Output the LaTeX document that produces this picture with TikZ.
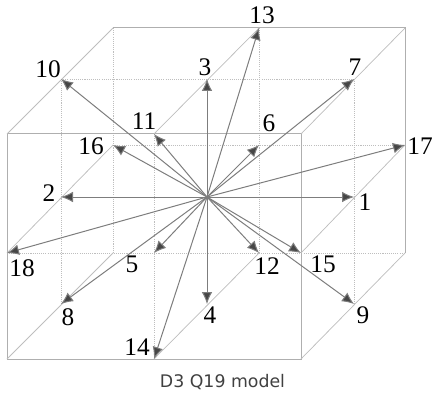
\documentclass[tikz,border=0pt]{standalone}
\usepackage{fontspec}
\setmainfont{Liberation Serif}
\newfontfamily\captionfont{DejaVu Sans}
\usetikzlibrary{arrows.meta}
\definecolor{edgegray}{RGB}{175,175,175}
\definecolor{slantgray}{RGB}{190,190,190}
\definecolor{dotgray}{RGB}{190,190,190}
\definecolor{veloc}{RGB}{125,125,125}
\definecolor{tipgray}{RGB}{70,70,70}
\tikzset{
    wire/.style={draw=edgegray,line width=.75pt},
    slant/.style={draw=slantgray,line width=.55pt},
    hidden/.style={draw=dotgray,line width=.7pt,dash pattern=on .8pt off .8pt},
    veloarrow/.style={
        -{Latex[length=9pt,width=8pt,fill=tipgray]},draw=veloc,line width=.75pt
    },
    num/.style={font=\fontsize{19}{19}\selectfont,text=black,inner sep=0pt}
}

\begin{document}
\begin{tikzpicture}[x=.75pt,y=-.75pt]
\useasboundingbox (0,0) rectangle (434,395);

\coordinate (o) at (207,197);
\coordinate (v1) at (354,197);
\coordinate (v2) at (61,197);
\coordinate (v3) at (207,79);
\coordinate (v4) at (207,304);
\coordinate (v5) at (154,253);
\coordinate (v6) at (259,145);
\coordinate (v7) at (354,79);
\coordinate (v8) at (61,304);
\coordinate (v9) at (354,304);
\coordinate (v10) at (61,79);
\coordinate (v11) at (154,134);
\coordinate (v12) at (259,253);
\coordinate (v13) at (259,28);
\coordinate (v14) at (154,359);
\coordinate (v15) at (301,253);
\coordinate (v16) at (113,145);
\coordinate (v17) at (405,145);
\coordinate (v18) at (7,253);
\coordinate (ftl) at (7,134);
\coordinate (ftr) at (301,134);
\coordinate (fbl) at (7,359);
\coordinate (fbr) at (301,359);
\coordinate (btl) at (113,28);
\coordinate (btr) at (405,28);
\coordinate (bbl) at (113,253);
\coordinate (bbr) at (405,253);

\draw[hidden] (v10) -- (v7);
\draw[hidden] (v16) -- (v17);
\draw[hidden] (v18) -- (bbr);
\draw[hidden] (v10) -- (v8);
\draw[hidden] (btl) -- (bbl);
\draw[hidden] (v11) -- (v14);
\draw[hidden] (v13) -- (v12);
\draw[hidden] (v7) -- (v9);

\draw[wire] (ftl) rectangle (fbr);
\draw[wire] (btl) -- (btr) -- (bbr);
\draw[slant] (ftl) -- (btl);
\draw[slant] (ftr) -- (btr);
\draw[slant] (fbl) -- (bbl);
\draw[slant] (fbr) -- (bbr);
\draw[slant] (v18) -- (v16);
\draw[slant] (v11) -- (v13);
\draw[slant] (v14) -- (v12);
\draw[slant] (v15) -- (v17);

\draw[veloarrow] (o) -- (v1);
\draw[veloarrow] (o) -- (v2);
\draw[veloarrow] (o) -- (v3);
\draw[veloarrow] (o) -- (v4);
\draw[veloarrow] (o) -- (v5);
\draw[veloarrow] (o) -- (v6);
\draw[veloarrow] (o) -- (v7);
\draw[veloarrow] (o) -- (v8);
\draw[veloarrow] (o) -- (v9);
\draw[veloarrow] (o) -- (v10);
\draw[veloarrow] (o) -- (v11);
\draw[veloarrow] (o) -- (v12);
\draw[veloarrow] (o) -- (v13);
\draw[veloarrow] (o) -- (v14);
\draw[veloarrow] (o) -- (v15);
\draw[veloarrow] (o) -- (v16);
\draw[veloarrow] (o) -- (v17);
\draw[veloarrow] (o) -- (v18);

\node[num] (lab1) at (365,202) {1};
\node[num] (lab2) at (49,193) {2};
\node[num] (lab3) at (205,67) {3};
\node[num] (lab4) at (210,315) {4};
\node[num] (lab5) at (132,264) {5};
\node[num] (lab6) at (269,123) {6};
\node[num] (lab7) at (355,67) {7};
\node[num] (lab8) at (68,317) {8};
\node[num] (lab9) at (363,315) {9};
\node[num] (lab10) at (48,69) {10};
\node[num] (lab11) at (144,121) {11};
\node[num] (lab12) at (267,266) {12};
\node[num] (lab13) at (262,15) {13};
\node[num] (lab14) at (137,347) {14};
\node[num] (lab15) at (323,264) {15};
\node[num] (lab16) at (91,146) {16};
\node[num] (lab17) at (420,146) {17};
\node[num] (lab18) at (22,268) {18};

\node[font=\captionfont\fontsize{13}{14}\selectfont,text=black!75,inner sep=0pt]
(caption) at (222.5,382) {D3 Q19 model};

\end{tikzpicture}
\end{document}
